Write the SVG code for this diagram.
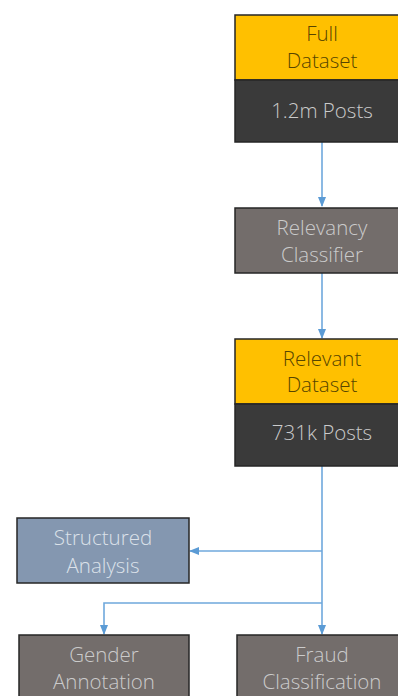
<svg xmlns="http://www.w3.org/2000/svg" width="398" height="696" viewBox="0 0 398 696">
<style>
  .box { stroke: #262626; stroke-width: 1.5; }
  .yel { fill: #FFC000; }
  .drk { fill: #3A3A3A; }
  .gry { fill: #736D6B; }
  .blu { fill: #8497B0; }
  text { font-family: "Open Sans", "Liberation Sans", sans-serif; font-weight: 300; font-size: 20.5px; text-anchor: middle; }
  .ty { fill: #574500; }
  .tl { fill: #CBCBCB; }
  .tb { fill: #DCE2EA; }
  .conn { fill: none; stroke: #6FA8DC; stroke-width: 1.6; }
</style>
<defs>
  <marker id="arr" markerWidth="10" markerHeight="8" refX="9" refY="4" orient="auto" markerUnits="userSpaceOnUse">
    <path d="M0,0 L10,4 L0,8 Z" fill="#5B9BD5"/>
  </marker>
</defs>
<rect width="398" height="696" fill="#ffffff"/>
<g id="connectors">
  <path class="conn" d="M322,142 V206" marker-end="url(#arr)"/>
  <path class="conn" d="M322,273 V338" marker-end="url(#arr)"/>
  <path class="conn" d="M322,466 V634" marker-end="url(#arr)"/>
  <path class="conn" d="M322,551 H190" marker-end="url(#arr)"/>
  <path class="conn" d="M322,603 H104 V634" marker-end="url(#arr)"/>
</g>
<g id="full-dataset">
  <rect class="box yel" x="235" y="15" width="175" height="65"/>
  <rect class="box drk" x="235" y="80" width="175" height="62"/>
  <text class="ty" x="322" y="41">Full</text>
  <text class="ty" x="322" y="68">Dataset</text>
  <text class="tl" x="322" y="118">1.2m Posts</text>
</g>
<g id="relevancy-classifier">
  <rect class="box gry" x="235" y="208" width="175" height="65"/>
  <text class="tl" x="322" y="235">Relevancy</text>
  <text class="tl" x="322" y="262">Classifier</text>
</g>
<g id="relevant-dataset">
  <rect class="box yel" x="235" y="339" width="175" height="65"/>
  <rect class="box drk" x="235" y="404" width="175" height="62"/>
  <text class="ty" x="322" y="366">Relevant</text>
  <text class="ty" x="322" y="392">Dataset</text>
  <text class="tl" x="322" y="440">731k Posts</text>
</g>
<g id="structured-analysis">
  <rect class="box blu" x="17" y="518" width="172" height="65"/>
  <text class="tb" x="103" y="545">Structured</text>
  <text class="tb" x="103" y="573">Analysis</text>
</g>
<g id="gender-annotation">
  <rect class="box gry" x="19" y="635" width="170" height="70"/>
  <text class="tl" x="104" y="662">Gender</text>
  <text class="tl" x="104" y="689">Annotation</text>
</g>
<g id="fraud-classification">
  <rect class="box gry" x="237" y="635" width="175" height="70"/>
  <text class="tl" x="322" y="662">Fraud</text>
  <text class="tl" x="322" y="689">Classification</text>
</g>
</svg>
